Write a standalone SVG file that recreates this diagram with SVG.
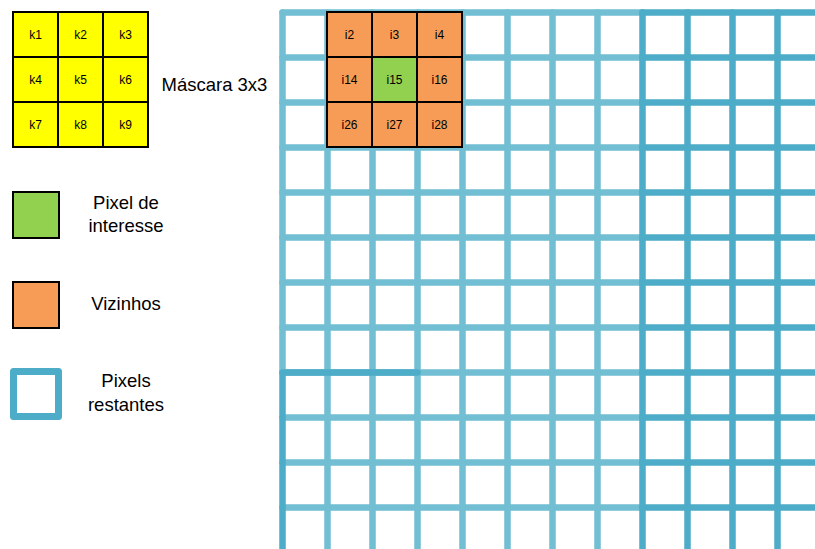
<svg xmlns="http://www.w3.org/2000/svg" width="815" height="549" viewBox="0 0 815 549">
<style>
text{font-family:"Liberation Sans",Arial,sans-serif;fill:#000}
.c{font-size:12px;text-anchor:middle}
.l{font-size:18.5px;text-anchor:middle}
.lt{stroke:#72bfd3;stroke-width:6.5;fill:none;stroke-linecap:round}
.dk{stroke:#4dacc7;stroke-width:6.5;fill:none;stroke-linecap:round}
.cell{stroke:#000;stroke-width:2}
.y{fill:#ffff00}
.o{fill:#f79c56}
.g{fill:#92d050}
</style>
<rect width="815" height="549" fill="#fff"/>
<g id="grid">
<path class="lt" d="M282.5 12.5H642.5M282.5 57.5H642.5M282.5 102.5H642.5M282.5 147.5H642.5M282.5 192.5H642.5M282.5 237.5H642.5M282.5 282.5H642.5M282.5 327.5H642.5M282.5 417.5H642.5M282.5 462.5H642.5M282.5 507.5H642.5M282.5 372.5H642.5"/>
<path class="lt" d="M282.5 12.5V372.5M327.5 12.5V556M372.5 12.5V556M417.5 12.5V556M462.5 12.5V556M507.5 12.5V556M552.5 12.5V556M597.5 12.5V556"/>
<path class="dk" d="M642.5 12.5H822M642.5 57.5H822M642.5 102.5H822M642.5 147.5H822M642.5 192.5H822M642.5 237.5H822M642.5 282.5H822M642.5 327.5H822M642.5 372.5H822M642.5 417.5H822M642.5 462.5H822M642.5 507.5H822"/>
<path class="dk" d="M642.5 12.5V556M687.5 12.5V556M732.5 12.5V556M777.5 12.5V556M282.5 372.5V556M282.5 372.5H417.5"/>
</g>
<g id="mascara">
<rect class="cell y" x="13" y="12" width="45" height="45"/>
<rect class="cell y" x="58" y="12" width="45" height="45"/>
<rect class="cell y" x="103" y="12" width="45" height="45"/>
<rect class="cell y" x="13" y="57" width="45" height="45"/>
<rect class="cell y" x="58" y="57" width="45" height="45"/>
<rect class="cell y" x="103" y="57" width="45" height="45"/>
<rect class="cell y" x="13" y="102" width="45" height="45"/>
<rect class="cell y" x="58" y="102" width="45" height="45"/>
<rect class="cell y" x="103" y="102" width="45" height="45"/>
<text class="c" x="35.5" y="38.5">k1</text>
<text class="c" x="80.5" y="38.5">k2</text>
<text class="c" x="125.5" y="38.5">k3</text>
<text class="c" x="35.5" y="83.5">k4</text>
<text class="c" x="80.5" y="83.5">k5</text>
<text class="c" x="125.5" y="83.5">k6</text>
<text class="c" x="35.5" y="128.5">k7</text>
<text class="c" x="80.5" y="128.5">k8</text>
<text class="c" x="125.5" y="128.5">k9</text>
</g>
<g id="mascara-label"><text x="161.5" y="90.5" style="font-size:18.5px">Máscara 3x3</text></g>
<g id="vizinhanca">
<rect class="cell o" x="327" y="12" width="45" height="45"/>
<rect class="cell o" x="372" y="12" width="45" height="45"/>
<rect class="cell o" x="417" y="12" width="45" height="45"/>
<rect class="cell o" x="327" y="57" width="45" height="45"/>
<rect class="cell g" x="372" y="57" width="45" height="45"/>
<rect class="cell o" x="417" y="57" width="45" height="45"/>
<rect class="cell o" x="327" y="102" width="45" height="45"/>
<rect class="cell o" x="372" y="102" width="45" height="45"/>
<rect class="cell o" x="417" y="102" width="45" height="45"/>
<text class="c" x="349.5" y="38.5">i2</text>
<text class="c" x="394.5" y="38.5">i3</text>
<text class="c" x="439.5" y="38.5">i4</text>
<text class="c" x="349.5" y="83.5">i14</text>
<text class="c" x="394.5" y="83.5">i15</text>
<text class="c" x="439.5" y="83.5">i16</text>
<text class="c" x="349.5" y="128.5">i26</text>
<text class="c" x="394.5" y="128.5">i27</text>
<text class="c" x="439.5" y="128.5">i28</text>
</g>
<g id="legenda-interesse">
<rect class="cell g" x="13" y="192" width="46" height="46"/>
<text class="l" x="126" y="208.5">Pixel de</text>
<text class="l" x="126" y="231.5">interesse</text>
</g>
<g id="legenda-vizinhos">
<rect class="cell o" x="13" y="282" width="46" height="46"/>
<text class="l" x="126" y="309.5">Vizinhos</text>
</g>
<g id="legenda-restantes">
<rect x="13.5" y="371.5" width="45" height="45" fill="#fff" stroke="#4dacc7" stroke-width="7" stroke-linejoin="round"/>
<text class="l" x="126" y="386.5">Pixels</text>
<text class="l" x="126" y="410.5">restantes</text>
</g>
<g id="connectors"/>
</svg>
